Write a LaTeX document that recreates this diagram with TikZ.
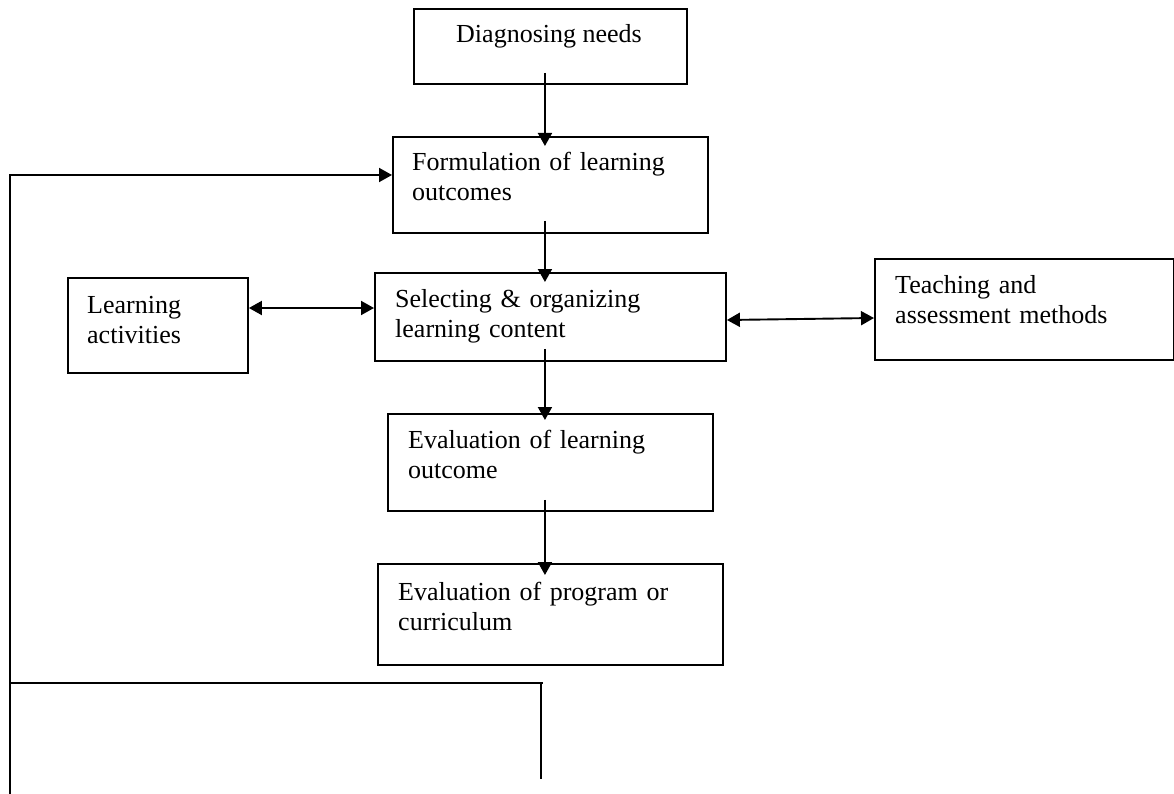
\documentclass[tikz,border=0pt]{standalone}
\usepackage{fontspec}
\setmainfont{Liberation Serif}
\usetikzlibrary{arrows.meta,calc}
\begin{document}
\begin{tikzpicture}[x=1pt,y=-1pt,
  box/.style={draw,line width=1.9pt,inner sep=0pt,anchor=north west},
  txt/.style={inner sep=0pt,anchor=base west,align=left,text width=#1,font=\fontsize{26}{30}\selectfont},
  ctxt/.style={inner sep=0pt,anchor=base,font=\fontsize{26}{30}\selectfont},
  conn/.style={line width=1.9pt},
  arr/.style={conn,-{Triangle[length=13pt,width=14pt]}},
  darr/.style={conn,{Triangle[length=13pt,width=14pt]}-{Triangle[length=13pt,width=14pt]}}]
\useasboundingbox (0,0) rectangle (1174,794);

% boxes
\node[box,minimum width=273pt,minimum height=75pt] (dn) at (413,8) {};
\node[box,minimum width=315pt,minimum height=96pt] (fo) at (392,136) {};
\node[box,minimum width=351pt,minimum height=88pt] (sl) at (374,272) {};
\node[box,minimum width=180pt,minimum height=95pt] (la) at (67,277) {};
\node[box,minimum width=299pt,minimum height=101pt] (tm) at (874,258) {};
\node[box,minimum width=325pt,minimum height=97pt] (el) at (387,413) {};
\node[box,minimum width=345pt,minimum height=101pt] (ep) at (377,563) {};

% texts
\node[ctxt] (dnt) at ($(dn.north west)+(136,35)$) {Diagnosing needs};
\node[txt=290pt] (fot) at ($(fo.north west)+(20,35)$) {Formulation of learning\\outcomes};
\node[txt=330pt] (slt) at ($(sl.north west)+(21,35)$) {Selecting \& organizing\\learning content};
\node[txt=160pt] (lat) at ($(la.north west)+(20,36)$) {Learning\\activities};
\node[txt=280pt] (tmt) at ($(tm.north west)+(21,35)$) {Teaching and\\assessment methods};
\node[txt=300pt] (elt) at ($(el.north west)+(21,35)$) {Evaluation of learning\\outcome};
\node[txt=320pt] (ept) at ($(ep.north west)+(21,37)$) {Evaluation of program or\\curriculum};

% vertical flow arrows
\draw[arr] ($(dn.south)+(-5.5,-12)$) -- ($(fo.north)+(-5.5,10)$);
\draw[arr] ($(fo.south)+(-5.5,-13)$) -- ($(sl.north)+(-5.5,10)$);
\draw[arr] ($(sl.south)+(-5.5,-13)$) -- ($(el.north)+(-5.5,7)$);
\draw[arr] ($(el.south)+(-5.5,-12)$) -- ($(ep.north)+(-5.5,12)$);

% side arrows
\draw[darr] ($(la.north east)+(0,31)$) -- ($(sl.north west)+(0,36)$);
\draw[darr] ($(sl.north east)+(0,48)$) -- ($(tm.north west)+(0,60)$);

% feedback loop
\coordinate (fb0) at (10,794);
\coordinate (fb1) at (10,175);
\draw[arr] (fb0) -- (fb1) -- ($(fo.north west)+(0,39)$);
\coordinate (h0) at (10,683);
\coordinate (h1) at (543,683);
\coordinate (v0) at (541,683);
\coordinate (v1) at (541,779);
\draw[conn] (h0) -- (h1);
\draw[conn] (v0) -- (v1);
\end{tikzpicture}
\end{document}
